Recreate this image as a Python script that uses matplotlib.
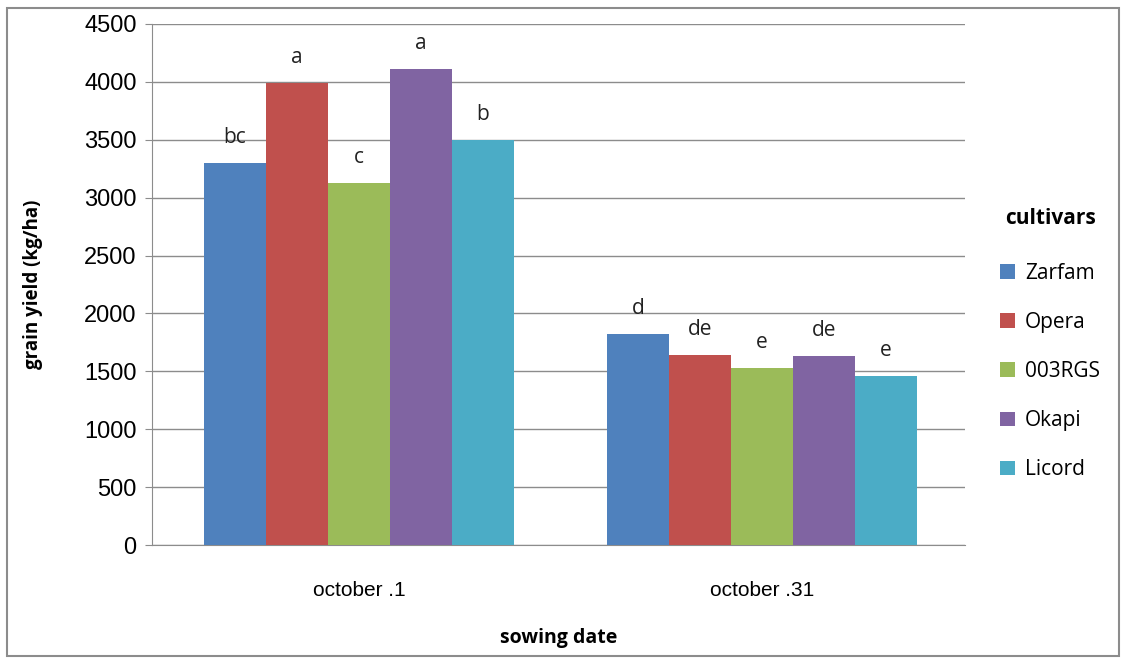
import matplotlib
matplotlib.use("Agg")
import matplotlib.pyplot as plt
import numpy as np
from matplotlib.patches import Rectangle

categories = ["october .1", "october .31"]
cultivars = ["Zarfam", "Opera", "003RGS", "Okapi", "Licord"]
zarfam = [3300, 1820]
opera = [3990, 1640]
rgs003 = [3130, 1530]
okapi = [4110, 1630]
licord = [3500, 1460]
letters = [["bc", "d"], ["a", "de"], ["c", "e"], ["a", "de"], ["b", "e"]]
colors = ["#4F81BD", "#C0504D", "#9BBB59", "#8064A2", "#4BACC6"]

series = [zarfam, opera, rgs003, okapi, licord]

fig = plt.figure(figsize=(11.32, 6.58), dpi=100)
ax = fig.add_axes([152/1132, 1-545/658, (965-152)/1132, (545-24)/658])

x = np.arange(len(categories))
w = 0.1538
for i, (vals, c, name) in enumerate(zip(series, colors, cultivars)):
    pos = x + (i - 2) * w
    ax.bar(pos, vals, width=w, color=c, label=name, zorder=3)
    for p, v, l in zip(pos, vals, letters[i]):
        ax.text(p, v + 130, l, ha="center", va="bottom", fontsize=15,
                family=["Open Sans", "DejaVu Sans"], color="#222222", zorder=4)

ax.set_xlim(-0.5136, 1.5037)
ax.set_ylim(0, 4500)
ax.set_yticks(np.arange(0, 4501, 500))
ax.yaxis.grid(True, color="#8c8c8c", linewidth=1, zorder=0)
ax.set_axisbelow(True)
for s in ["top", "right"]:
    ax.spines[s].set_visible(False)
ax.spines["left"].set_color("#8c8c8c")
ax.spines["bottom"].set_color("#8c8c8c")
ax.tick_params(axis="y", length=5, color="#8c8c8c", labelsize=17, pad=6)
ax.tick_params(axis="x", length=0, pad=26)
for t in ax.get_yticklabels():
    t.set_family("Liberation Sans")
ax.set_xticks(x)
ax.set_xticklabels(categories, fontsize=15, family=["Liberation Sans Narrow", "Liberation Sans"])

ax.set_ylabel("grain yield (kg/ha)", fontsize=13.5, fontweight="bold",
              family=["Open Sans", "DejaVu Sans"], labelpad=30)
ax.set_xlabel("sowing date", fontsize=14, fontweight="bold",
              family=["Open Sans", "DejaVu Sans"], labelpad=20)

leg = ax.legend(loc="center left", bbox_to_anchor=(1.02, 0.385), frameon=False,
                title="cultivars", handlelength=0.7, handleheight=0.7,
                handletextpad=0.5, labelspacing=1.35,
                prop={"family": ["Open Sans", "DejaVu Sans"], "size": 15})
leg.get_title().set_fontweight("bold")
leg.get_title().set_fontsize(15)
leg.get_title().set_family(["Open Sans", "DejaVu Sans"])
leg._legend_box.sep = 24

fig.patches.append(Rectangle((7/1132, 2/658), 1112/1132, 648/658, transform=fig.transFigure,
                             fill=False, edgecolor="#8c8c8c", linewidth=1.5))

fig.savefig("out.png", dpi=100)
